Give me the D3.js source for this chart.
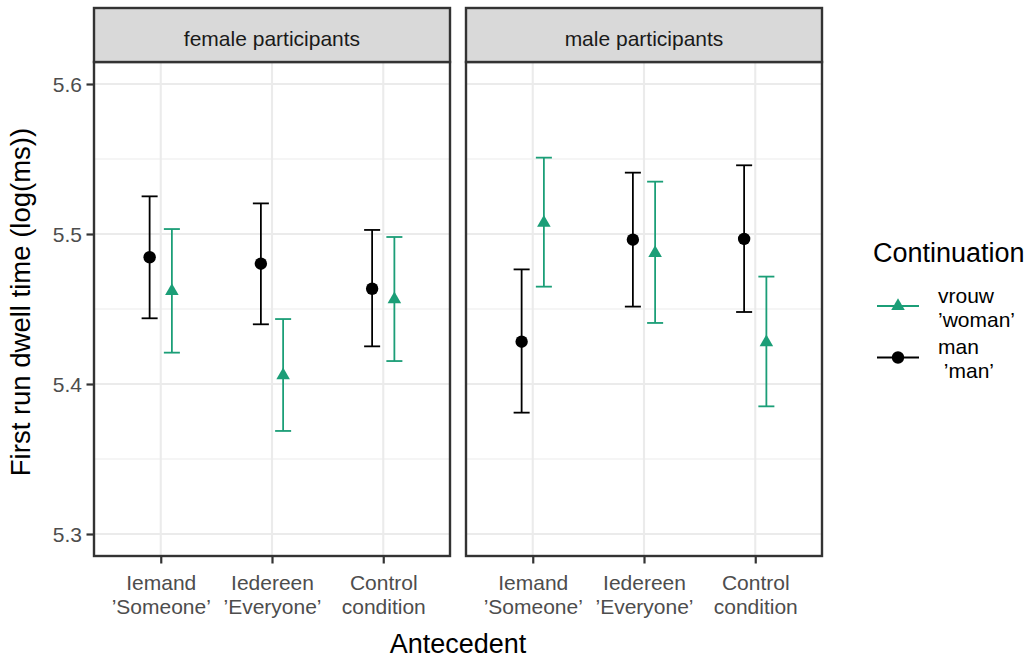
<!DOCTYPE html>
<html>
<head>
<meta charset="utf-8">
<script src="https://cdn.jsdelivr.net/npm/d3@7"></script>
<style>
  html, body { margin: 0; padding: 0; background: #fff; }
  svg { display: block; font-family: "Liberation Sans", Arial, Helvetica, sans-serif; }
</style>
</head>
<body>
<svg id="chart" width="1031" height="658"></svg>
<script>
// ---- data ----
const categories = ["Iemand\n\u2019Someone\u2019", "Iedereen\n\u2019Everyone\u2019", "Control\ncondition"];
const panels = ["female participants", "male participants"];
const seriesNames = ["vrouw", "man"];
const legendLabels = ["vrouw\n\u2019woman\u2019", "man\n \u2019man\u2019"];
const yTicks = [5.3, 5.4, 5.5, 5.6];
const yMinor = [5.35, 5.45, 5.55];

const femaleManMean = [5.4845, 5.4802, 5.4635];
const femaleManLow  = [5.4438, 5.4398, 5.4251];
const femaleManHigh = [5.5251, 5.5204, 5.5027];
const femaleVrouwMean = [5.4619, 5.4057, 5.4565];
const femaleVrouwLow  = [5.4209, 5.3687, 5.4153];
const femaleVrouwHigh = [5.5033, 5.4433, 5.4980];

const maleManMean = [5.4282, 5.4962, 5.4967];
const maleManLow  = [5.3809, 5.4516, 5.4480];
const maleManHigh = [5.4764, 5.5409, 5.5458];
const maleVrouwMean = [5.5075, 5.4873, 5.4278];
const maleVrouwLow  = [5.4649, 5.4407, 5.3851];
const maleVrouwHigh = [5.5509, 5.5349, 5.4716];

const panelData = [
  { vrouw: [femaleVrouwMean, femaleVrouwLow, femaleVrouwHigh], man: [femaleManMean, femaleManLow, femaleManHigh] },
  { vrouw: [maleVrouwMean, maleVrouwLow, maleVrouwHigh], man: [maleManMean, maleManLow, maleManHigh] }
];

// ---- layout ----
const colors = { vrouw: "#1B9E77", man: "#000000" };
const dodge = { vrouw: 0.1, man: -0.1 };
const panelX = [[94, 450], [466, 822]];
const stripTop = 8, panelTop = 62, panelBottom = 556;

const svg = d3.select("#chart");

const y = d3.scaleLinear().domain([5.3 - 22/1500, 5.6 + 22/1500]).range([panelBottom, panelTop]);

const triangle = d3.symbol().type(d3.symbolTriangle).size(80);
const circle = d3.symbol().type(d3.symbolCircle).size(Math.PI * 6.2 * 6.2);

panels.forEach((pname, pi) => {
  const [x0, x1] = panelX[pi];
  const x = d3.scalePoint().domain(categories).range([x0, x1]).padding(0.6);
  const step = x.step();
  const g = svg.append("g");

  g.append("rect").attr("x", x0).attr("y", panelTop).attr("width", x1 - x0).attr("height", panelBottom - panelTop).attr("fill", "#fff");

  g.selectAll(".ymin").data(yMinor).join("line")
    .attr("x1", x0).attr("x2", x1).attr("y1", d => y(d)).attr("y2", d => y(d))
    .attr("stroke", "#EBEBEB").attr("stroke-width", 1.1);
  g.selectAll(".ymaj").data(yTicks).join("line")
    .attr("x1", x0).attr("x2", x1).attr("y1", d => y(d)).attr("y2", d => y(d))
    .attr("stroke", "#EBEBEB").attr("stroke-width", 2.1);
  g.selectAll(".xmaj").data(categories).join("line")
    .attr("x1", d => x(d)).attr("x2", d => x(d)).attr("y1", panelTop).attr("y2", panelBottom)
    .attr("stroke", "#EBEBEB").attr("stroke-width", 2.1);

  seriesNames.forEach(s => {
    const [mean, lo, hi] = panelData[pi][s];
    const off = dodge[s] * step;
    const half = 0.072 * step;
    const col = colors[s];
    categories.forEach((c, i) => {
      const cx = x(c) + off;
      g.append("line").attr("x1", cx).attr("x2", cx).attr("y1", y(lo[i])).attr("y2", y(hi[i]))
        .attr("stroke", col).attr("stroke-width", 1.8);
      g.append("line").attr("x1", cx - half).attr("x2", cx + half).attr("y1", y(lo[i])).attr("y2", y(lo[i]))
        .attr("stroke", col).attr("stroke-width", 1.8);
      g.append("line").attr("x1", cx - half).attr("x2", cx + half).attr("y1", y(hi[i])).attr("y2", y(hi[i]))
        .attr("stroke", col).attr("stroke-width", 1.8);
      g.append("path").attr("d", s === "vrouw" ? triangle() : circle())
        .attr("transform", `translate(${cx},${y(mean[i])})`).attr("fill", col);
    });
  });

  g.append("rect").attr("x", x0).attr("y", panelTop).attr("width", x1 - x0).attr("height", panelBottom - panelTop)
    .attr("fill", "none").attr("stroke", "#333333").attr("stroke-width", 2.4);

  g.append("rect").attr("x", x0).attr("y", stripTop).attr("width", x1 - x0).attr("height", panelTop - stripTop)
    .attr("fill", "#D9D9D9").attr("stroke", "#333333").attr("stroke-width", 2.4);
  g.append("text").attr("x", (x0 + x1) / 2).attr("y", 45.5).attr("text-anchor", "middle")
    .attr("font-size", 21).attr("fill", "#1A1A1A").text(pname);

  const xa = g.append("g").attr("transform", `translate(0,${panelBottom})`)
    .call(d3.axisBottom(x).tickSizeOuter(0).tickSizeInner(7.5).tickPadding(4));
  xa.select(".domain").remove();
  xa.selectAll(".tick line").attr("stroke", "#333333").attr("stroke-width", 2.2);
  xa.selectAll(".tick text").each(function(d) {
    const t = d3.select(this);
    t.text(null).attr("y", 0).attr("dy", null);
    d.split("\n").forEach((line, li) => {
      t.append("tspan").attr("x", 0).attr("y", 34 + li * 24).text(line);
    });
  }).attr("font-size", 21).attr("fill", "#4D4D4D").attr("font-family", null);

  if (pi === 0) {
    const ya = g.append("g").attr("transform", `translate(${x0},0)`)
      .call(d3.axisLeft(y).tickValues(yTicks).tickFormat(d3.format(".1f")).tickSizeOuter(0).tickSizeInner(7.5).tickPadding(4.5));
    ya.select(".domain").remove();
    ya.selectAll(".tick line").attr("stroke", "#333333").attr("stroke-width", 2.2);
    ya.selectAll(".tick text").attr("font-size", 21).attr("fill", "#4D4D4D").attr("font-family", null).attr("dy", "0.36em");
  }
});

svg.append("text").attr("x", 458).attr("y", 653).attr("text-anchor", "middle")
  .attr("font-size", 27).attr("fill", "#000").text("Antecedent");
svg.append("text").attr("transform", "translate(30,302) rotate(-90)").attr("text-anchor", "middle")
  .attr("font-size", 27.5).attr("fill", "#000").text("First run dwell time (log(ms))");

const lg = svg.append("g");
lg.append("text").attr("x", 873).attr("y", 262).attr("font-size", 27).attr("fill", "#000").text("Continuation");
const keyY = [306, 357.5];
seriesNames.forEach((s, i) => {
  const ky = keyY[i];
  lg.append("line").attr("x1", 877).attr("x2", 919).attr("y1", ky).attr("y2", ky)
    .attr("stroke", colors[s]).attr("stroke-width", 1.8);
  lg.append("path").attr("d", s === "vrouw" ? triangle() : circle())
    .attr("transform", `translate(898,${ky})`).attr("fill", colors[s]);
  const t = lg.append("text").attr("font-size", 21).attr("fill", "#000").attr("xml:space", "preserve");
  legendLabels[i].split("\n").forEach((line, li) => {
    t.append("tspan").attr("x", 938).attr("y", ky - 3 + li * 24 - (i === 1 ? 1 : 0)).text(line);
  });
});
</script>
</body>
</html>
